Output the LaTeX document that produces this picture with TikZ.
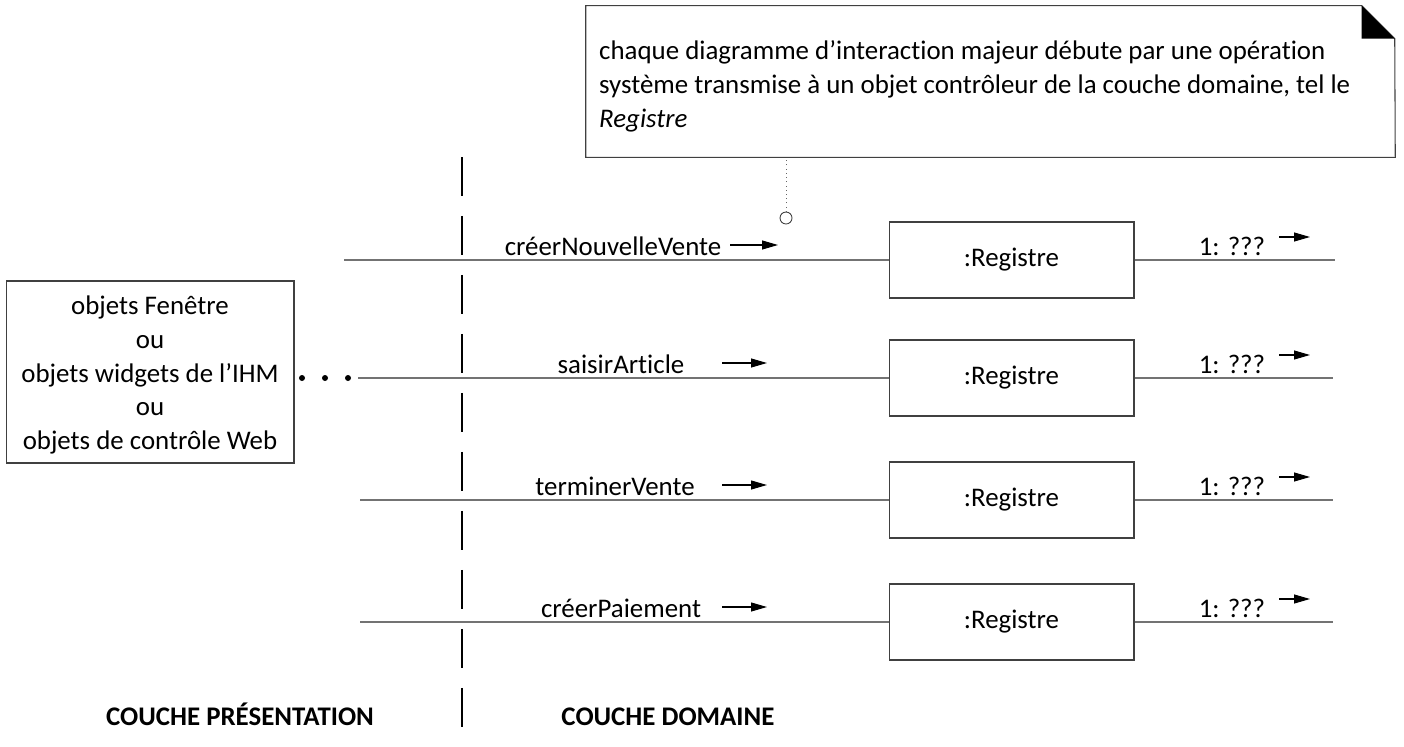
\documentclass[tikz,border=0pt]{standalone}
\usepackage{fontspec}
\setmainfont{Carlito}[Ligatures=NoCommon]
\usetikzlibrary{arrows.meta}

\begin{document}
\begin{tikzpicture}[x=0.02cm, y=-0.02cm,
    >={Triangle[length=0.32cm, width=0.18cm]},
    every node/.style={font=\fontsize{15.3}{19.3}\selectfont},
    objbox/.style={draw=black!75, line width=0.6pt, minimum width=4.9cm,
      minimum height=1.52cm, inner sep=0},
    msgline/.style={draw=black!55, line width=0.6pt},
    sendarrow/.style={->, line width=0.6pt},
    layerlabel/.style={anchor=base, font=\fontsize{15.3}{19.3}\selectfont\bfseries}]

  \useasboundingbox (0,0) rectangle (1404,747);

  %%%%%%%%%%%%%%%%%%%%%%%%%%%%%%%%%%%%%%%%%%%%%%%%%
  % Note with folded corner
  \node[minimum width=16.18cm, minimum height=3.02cm, inner sep=0] (note) at (990.5,81.5) {};
  \draw[black!75, line width=0.6pt] (note.north west) -- ++(776,0) coordinate (fold)
      -- ++(33,33) -- (note.south east) -- (note.south west) -- cycle;
  \fill (fold) -- ++(0,33) -- ++(33,0) -- cycle;
  \node[anchor=west, align=left] (notetext) at (593,86)
      {chaque diagramme d’interaction majeur débute par une opération\\
       système transmise à un objet contrôleur de la couche domaine, tel le\\
       \textit{Registre}};

  % Link from the note
  \node[circle, draw=black!75, line width=0.5pt, inner sep=0, minimum size=0.24cm] (pin) at (786,218) {};
  \draw[dotted, black!60] (pin.north) -- (pin.north |- note.south);

  %%%%%%%%%%%%%%%%%%%%%%%%%%%%%%%%%%%%%%%%%%%%%%%%%
  % Layer boundary
  \draw[line width=1.4pt, dash pattern=on 0.78cm off 0.4cm] (462,157) -- (462,727);

  % Presentation objects
  \node[draw=black!75, line width=0.6pt, minimum width=5.76cm, minimum height=3.64cm,
      align=center] (ihm) at (150,372) {};
  \node[align=center] (ihmtext) at (150,375)
      {objets Fenêtre\\ou\\objets widgets de l’IHM\\ou\\objets de contrôle Web};
  \fill (302,378) circle (0.06cm) (325,378) circle (0.06cm) (348,378) circle (0.06cm);

  %%%%%%%%%%%%%%%%%%%%%%%%%%%%%%%%%%%%%%%%%%%%%%%%%
  % créerNouvelleVente
  \coordinate (in1) at (344,260);
  \node[objbox] (reg1) at (1011.5,260) {:Registre};
  \coordinate (out1) at (1335,260);
  \draw[msgline] (in1) -- (reg1) (reg1) -- (out1);
  \node[anchor=base] (msg1) at (613,255) {créerNouvelleVente};
  \draw[sendarrow] (730,245) -- (778,245);
  \node[anchor=base] (ret1) at (1232,255) {1: ???};
  \draw[sendarrow] (1279,237) -- (1310,237);

  % saisirArticle
  \coordinate (in2) at (358,378);
  \node[objbox] (reg2) at (1011.5,378) {:Registre};
  \coordinate (out2) at (1333,378);
  \draw[msgline] (in2) -- (reg2) (reg2) -- (out2);
  \node[anchor=base] (msg2) at (621,373) {saisirArticle};
  \draw[sendarrow] (722,363) -- (767,363);
  \node[anchor=base] (ret2) at (1232,373) {1: ???};
  \draw[sendarrow] (1279,355) -- (1310,355);

  % terminerVente
  \coordinate (in3) at (360,500);
  \node[objbox] (reg3) at (1011.5,500) {:Registre};
  \coordinate (out3) at (1333,500);
  \draw[msgline] (in3) -- (reg3) (reg3) -- (out3);
  \node[anchor=base] (msg3) at (615,495) {terminerVente};
  \draw[sendarrow] (722,485) -- (767,485);
  \node[anchor=base] (ret3) at (1232,495) {1: ???};
  \draw[sendarrow] (1279,477) -- (1310,477);

  % créerPaiement
  \coordinate (in4) at (360,622);
  \node[objbox] (reg4) at (1011.5,622) {:Registre};
  \coordinate (out4) at (1333,622);
  \draw[msgline] (in4) -- (reg4) (reg4) -- (out4);
  \node[anchor=base] (msg4) at (621,617) {créerPaiement};
  \draw[sendarrow] (722,607) -- (767,607);
  \node[anchor=base] (ret4) at (1232,617) {1: ???};
  \draw[sendarrow] (1279,599) -- (1310,599);

  %%%%%%%%%%%%%%%%%%%%%%%%%%%%%%%%%%%%%%%%%%%%%%%%%
  % Layer names
  \node[layerlabel] (pres) at (240,725) {COUCHE PRÉSENTATION};
  \node[layerlabel] (dom) at (668,725) {COUCHE DOMAINE};

\end{tikzpicture}
\end{document}
